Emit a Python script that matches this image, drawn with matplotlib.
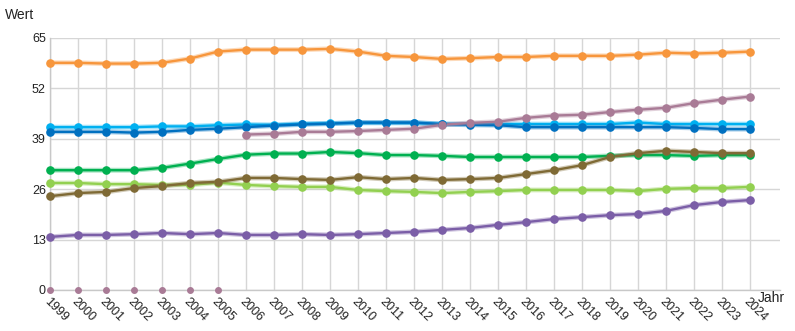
import matplotlib
matplotlib.use("Agg")
import matplotlib.pyplot as plt
import matplotlib.patheffects as pe
import numpy as np

plt.rcParams["font.family"] = ["Liberation Sans", "DejaVu Sans"]

years = list(range(1999, 2025))

orange = [58.6, 58.6, 58.4, 58.4, 58.6, 59.7, 61.5, 62.0, 62.0, 62.0, 62.2, 61.5, 60.4,
          60.1, 59.6, 59.8, 60.1, 60.1, 60.4, 60.4, 60.4, 60.7, 61.2, 61.0, 61.2, 61.5]
light_blue = [42.0, 42.0, 42.0, 42.0, 42.2, 42.2, 42.5, 42.7, 42.6, 42.9, 43.0, 43.1, 43.1,
              43.1, 42.8, 42.8, 42.8, 42.8, 42.8, 42.8, 42.8, 43.2, 42.8, 42.8, 42.8, 42.8]
dark_blue = [40.8, 40.8, 40.8, 40.6, 40.8, 41.3, 41.6, 42.0, 42.4, 42.7, 42.9, 43.2, 43.2,
             43.2, 42.8, 42.6, 42.5, 42.0, 42.0, 42.0, 42.0, 42.0, 42.0, 41.8, 41.5, 41.5]
green = [30.9, 30.9, 30.9, 30.9, 31.5, 32.6, 33.8, 34.9, 35.2, 35.2, 35.6, 35.3, 34.8,
         34.8, 34.6, 34.3, 34.3, 34.3, 34.3, 34.3, 34.6, 34.8, 34.8, 34.6, 34.8, 34.8]
light_green = [27.6, 27.6, 27.3, 27.3, 27.1, 27.1, 27.7, 27.1, 26.8, 26.6, 26.6, 25.8, 25.5,
               25.3, 25.0, 25.3, 25.5, 25.8, 25.8, 25.8, 25.8, 25.5, 26.1, 26.3, 26.3, 26.6]
olive = [24.2, 25.0, 25.3, 26.3, 26.8, 27.6, 27.9, 28.9, 28.9, 28.6, 28.4, 29.1, 28.6,
         28.9, 28.4, 28.6, 28.9, 29.9, 30.9, 32.2, 34.3, 35.3, 35.9, 35.6, 35.3, 35.3]
purple = [13.7, 14.2, 14.2, 14.4, 14.7, 14.4, 14.7, 14.2, 14.2, 14.4, 14.2, 14.4, 14.7,
          15.0, 15.5, 16.0, 16.8, 17.5, 18.3, 18.8, 19.3, 19.6, 20.4, 21.9, 22.7, 23.2]
mauve = [0, 0, 0, 0, 0, 0, 0, 40.1, 40.3, 40.8, 40.8, 41.0, 41.3,
         41.6, 42.6, 43.1, 43.4, 44.4, 45.0, 45.2, 45.9, 46.5, 47.0, 48.2, 49.1, 49.9]

series = [
    (orange, "#f7963c"),
    (light_blue, "#00b0f0"),
    (dark_blue, "#0070c0"),
    (green, "#00b050"),
    (light_green, "#92d050"),
    (olive, "#7f6a35"),
    (purple, "#7b5ea7"),
]

fig = plt.figure(figsize=(7.95, 3.31), dpi=100)
ax = fig.add_axes([50 / 795, 41 / 331, 730 / 795, 252 / 331])

halo = lambda c: [pe.Stroke(linewidth=3.5, foreground=c, alpha=0.35), pe.Normal()]


def draw(x, y, col):
    # line with a soft halo, then plain markers on top
    ax.plot(x, y, color=col, lw=1.7, path_effects=halo(col), zorder=3, clip_on=False)
    ax.plot(x, y, ls="none", marker="o", ms=5.2, color=col, zorder=4, clip_on=False)


for vals, col in series:
    draw(years, vals, col)

# mauve: zeros only shown as small dots, rest as a normal line
mauve_col = "#a97b96"
yrs = np.array(years)
mv = np.array(mauve, dtype=float)
draw(yrs[mv > 0], mv[mv > 0], mauve_col)
ax.plot(yrs[mv == 0], mv[mv == 0], ls="none", marker="o", ms=4,
        color=mauve_col, clip_on=False, zorder=4)

ax.set_xlim(1999, 2025.07)
ax.set_ylim(0, 65)
ax.set_yticks([0, 13, 26, 39, 52, 65])
ax.set_xticks(years)
ax.set_xticklabels([str(y) for y in years], rotation=-45, ha="left", va="top",
                   rotation_mode="anchor", fontsize=9, color="#222222")
for lbl in ax.get_yticklabels():
    lbl.set_fontsize(9)
    lbl.set_color("#222222")
    lbl.set_va("center_baseline")
ax.tick_params(axis="both", length=0)
ax.tick_params(axis="y", pad=3)
ax.tick_params(axis="x", pad=4)

ax.grid(True, color="#d6d6d6", lw=1)
ax.set_axisbelow(True)
for s in ["top", "right"]:
    ax.spines[s].set_visible(False)
for s in ["left", "bottom"]:
    ax.spines[s].set_color("#c8c8c8")
    ax.spines[s].set_linewidth(1)

fig.text(5 / 795, 1 - 15 / 331, "Wert", fontsize=10, va="center", ha="left", color="#222222")
fig.text(758 / 795, 1 - 298 / 331, "Jahr", fontsize=10, va="center", ha="left", color="#222222")

fig.savefig("out.png", dpi=100)
